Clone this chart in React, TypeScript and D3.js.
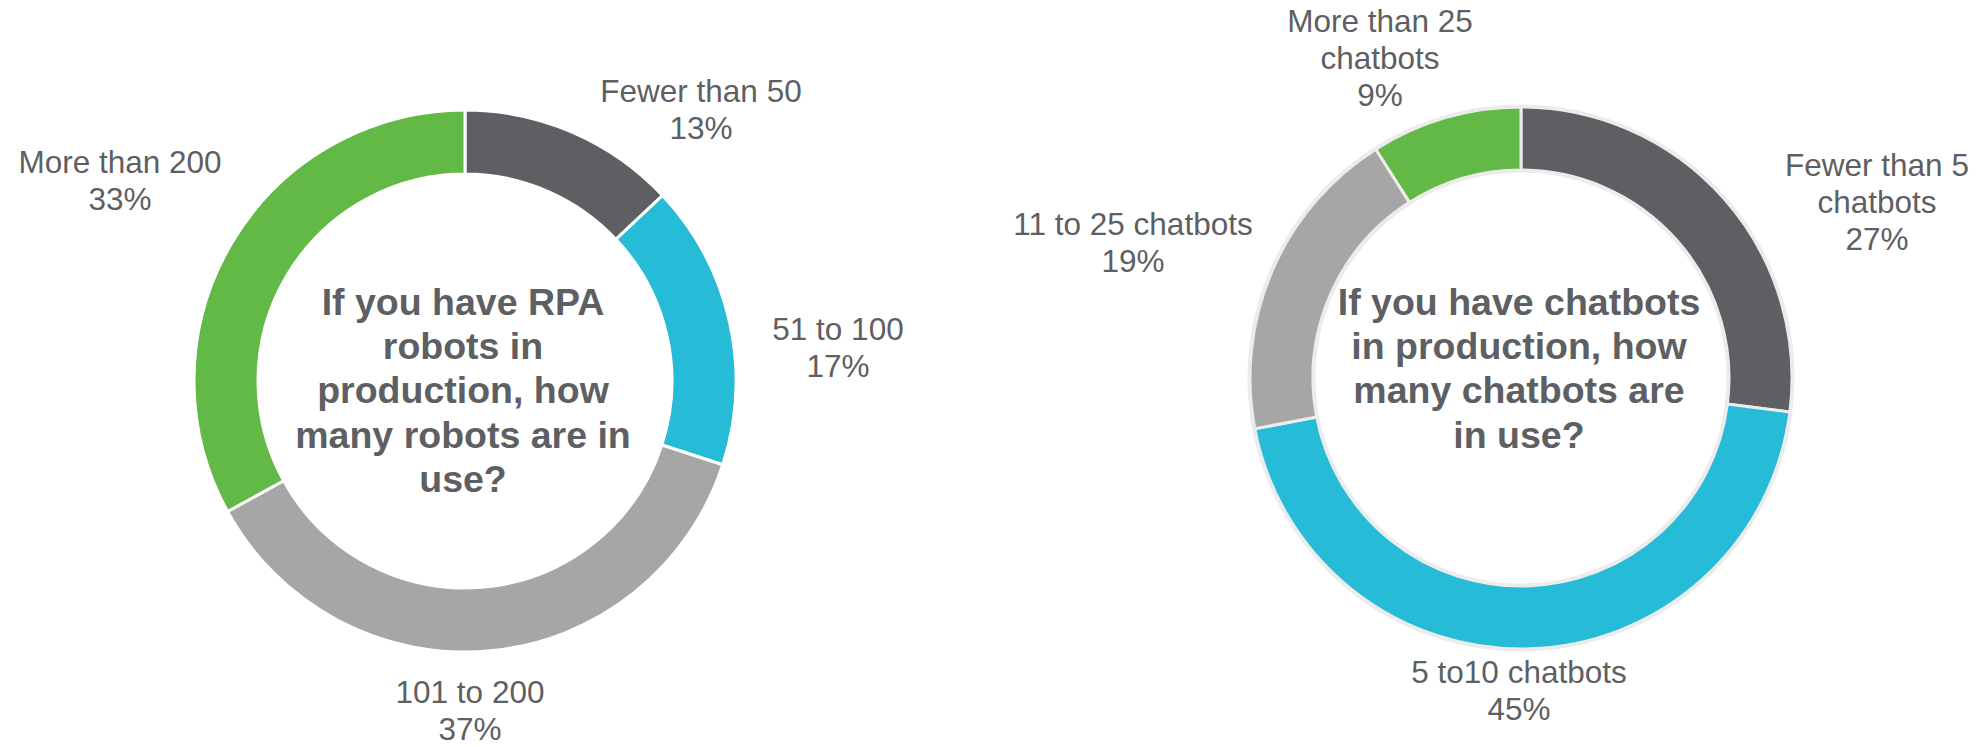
import React from "react";
import * as d3 from "d3";

// ---- Data ----
const rpaCategories = ["Fewer than 50", "51 to 100", "101 to 200", "More than 200"];
const rpaValues = [13, 17, 37, 33];
const rpaTitle = ["If you have RPA", "robots in", "production, how", "many robots are in", "use?"];

const botCategories = ["Fewer than 5 chatbots", "5 to10 chatbots", "11 to 25 chatbots", "More than 25 chatbots"];
const botValues = [27, 45, 19, 9];
const botTitle = ["If you have chatbots", "in production, how", "many chatbots are", "in use?"];

// label line breaks (text only)
const rpaLabelLines = [["Fewer than 50"], ["51 to 100"], ["101 to 200"], ["More than 200"]];
const botLabelLines = [["Fewer than 5", "chatbots"], ["5 to10 chatbots"], ["11 to 25 chatbots"], ["More than 25", "chatbots"]];

// ---- Layout / style ----
const W = 1988;
const H = 747;
const colors = ["#5e5f63", "#26bbd6", "#a6a6a6", "#62b946"];
const textColor = "#5e5f63";
const FONT = "'Liberation Sans', Arial, sans-serif";
const LABEL_SIZE = 31.5;
const LABEL_LH = 37;
const TITLE_SIZE = 37.5;
const TITLE_LH = 44.2;

type ChartLayout = {
  cx: number;
  cy: number;
  rOuter: number;
  rInner: number;
  stroke: string;
  outline: string | null;
  titleTop: number; // first baseline offset relative to cy
  labelOffsets: [number, number][]; // label centre x / first baseline, relative to chart centre
};

const rpaLayout: ChartLayout = {
  cx: 465,
  cy: 381,
  rOuter: 271,
  rInner: 207,
  stroke: "#ffffff",
  outline: null,
  titleTop: -66,
  labelOffsets: [
    [236, -279],
    [373, -41],
    [5, 322],
    [-345, -208],
  ],
};

const botLayout: ChartLayout = {
  cx: 1521,
  cy: 378,
  rOuter: 271,
  rInner: 208,
  stroke: "#ececec",
  outline: "#ececec",
  titleTop: -63,
  labelOffsets: [
    [356, -202],
    [-2, 305],
    [-388, -143],
    [-141, -346],
  ],
};

function Donut({
  values,
  labels,
  title,
  layout,
}: {
  values: number[];
  labels: string[][];
  title: string[];
  layout: ChartLayout;
}) {
  const pie = d3
    .pie<number>()
    .sort(null)
    .value((d) => d)
    .startAngle(0)
    .endAngle(2 * Math.PI);
  const arcs = pie(values);
  const arcGen = d3
    .arc<d3.PieArcDatum<number>>()
    .innerRadius(layout.rInner)
    .outerRadius(layout.rOuter);
  const fmt = d3.format(".0%");
  const total = d3.sum(values);

  return (
    <g transform={`translate(${layout.cx},${layout.cy})`}>
      {layout.outline && (
        <>
          <circle r={layout.rOuter + 1} fill="none" stroke={layout.outline} strokeWidth={3} />
          <circle r={layout.rInner - 1} fill="none" stroke={layout.outline} strokeWidth={3} />
        </>
      )}
      {arcs.map((a, i) => (
        <path
          key={i}
          d={arcGen(a) || ""}
          fill={colors[i]}
          stroke={layout.stroke}
          strokeWidth={3}
          strokeLinejoin="miter"
        />
      ))}
      {arcs.map((a, i) => {
        const [dx, dy] = layout.labelOffsets[i];
        const lines = [...labels[i], fmt(values[i] / total)];
        return (
          <text
            key={"l" + i}
            x={dx}
            y={dy}
            textAnchor="middle"
            fontFamily={FONT}
            fontSize={LABEL_SIZE}
            fill={textColor}
          >
            {lines.map((t, j) => (
              <tspan key={j} x={dx} y={dy + j * LABEL_LH}>
                {t}
              </tspan>
            ))}
          </text>
        );
      })}
      <text
        textAnchor="middle"
        fontFamily={FONT}
        fontSize={TITLE_SIZE}
        fontWeight="bold"
        fill={textColor}
      >
        {title.map((t, j) => (
          <tspan key={j} x={-2} y={layout.titleTop + j * TITLE_LH}>
            {t}
          </tspan>
        ))}
      </text>
    </g>
  );
}

export default function App() {
  return (
    <div style={{ position: "absolute", left: 0, top: 0, width: W, height: H }}>
      <svg width={W} height={H} viewBox={`0 0 ${W} ${H}`} style={{ display: "block", background: "#fff" }}>
        <Donut values={rpaValues} labels={rpaLabelLines} title={rpaTitle} layout={rpaLayout} />
        <Donut values={botValues} labels={botLabelLines} title={botTitle} layout={botLayout} />
      </svg>
    </div>
  );
}
